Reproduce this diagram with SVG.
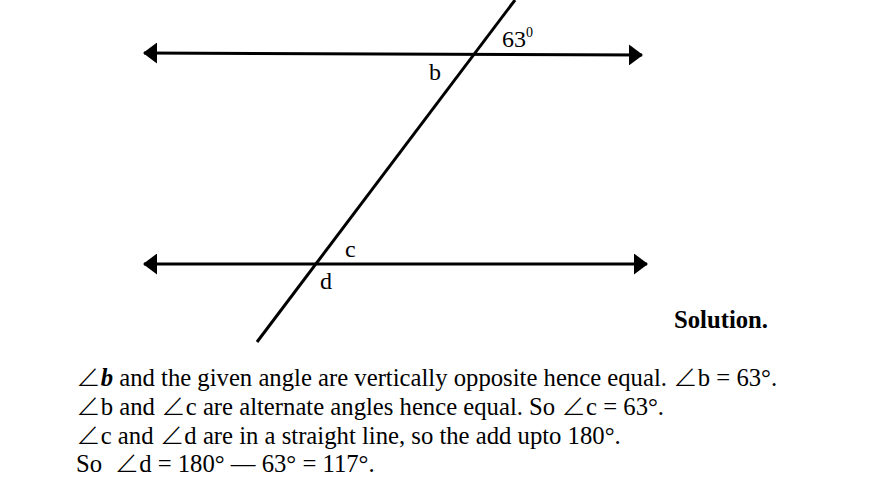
<svg xmlns="http://www.w3.org/2000/svg" width="875" height="490" viewBox="0 0 875 490">
<style>
.ln{stroke:#000;stroke-width:3;fill:none}
.lbl{font-family:"Liberation Serif","Times New Roman",serif;font-size:24px;fill:#000}
.txt{font-family:"Liberation Serif","Times New Roman",serif;font-size:24.7px;fill:#000}
.ang{font-family:"Noto Sans CJK SC","DejaVu Sans",sans-serif;font-weight:300}
</style>
<defs>
<marker id="ah" viewBox="0 0 14 21" refX="13" refY="10.5" markerWidth="14" markerHeight="21" markerUnits="userSpaceOnUse" orient="auto-start-reverse">
<path d="M0,0 L14,10.5 L0,21 Z" fill="#000"/>
</marker>
</defs>
<rect width="875" height="490" fill="#fff"/>
<g id="connectors">
<line id="line-top" class="ln" x1="144" y1="53" x2="642" y2="55" marker-start="url(#ah)" marker-end="url(#ah)"/>
<line id="line-bottom" class="ln" x1="144" y1="264" x2="647" y2="264" marker-start="url(#ah)" marker-end="url(#ah)"/>
<line id="transversal" class="ln" x1="515" y1="0" x2="257" y2="342"/>
</g>
<g id="labels">
<text class="lbl" x="502" y="47">63<tspan font-size="14" dy="-10">0</tspan></text>
<text class="lbl" x="429" y="80">b</text>
<text class="lbl" x="345" y="257">c</text>
<text class="lbl" x="320" y="289">d</text>
</g>
<g id="solution">
<text class="txt" x="674" y="328" font-weight="bold">Solution.</text>
<text class="txt" x="76" y="386"><tspan class="ang">∠</tspan><tspan font-weight="bold" font-style="italic">b</tspan> and the given angle are vertically opposite hence equal. <tspan class="ang">∠</tspan>b = 63°.</text>
<text class="txt" x="76" y="415"><tspan class="ang">∠</tspan>b and <tspan class="ang">∠</tspan>c are alternate angles hence equal. So <tspan class="ang">∠</tspan>c = 63°.</text>
<text class="txt" x="76" y="444"><tspan class="ang">∠</tspan>c and <tspan class="ang">∠</tspan>d are in a straight line, so the add upto 180°.</text>
<text class="txt" x="76" y="472">So&#160; <tspan class="ang">∠</tspan>d = 180° — 63° = 117°.</text>
</g>
</svg>
